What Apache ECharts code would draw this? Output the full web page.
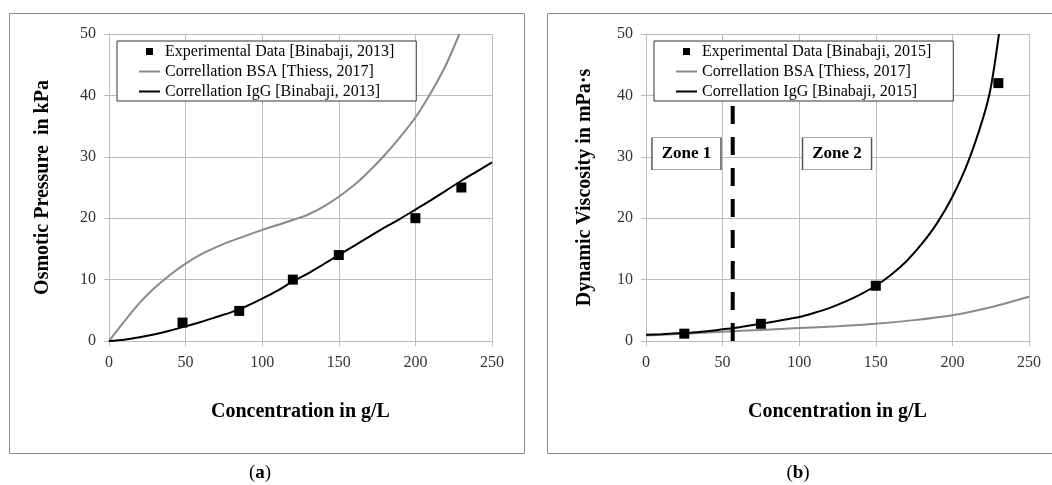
<!DOCTYPE html>
<html>
<head>
<meta charset="utf-8">
<script src="https://cdn.jsdelivr.net/npm/echarts@6/dist/echarts.min.js"></script>
<style>
  html, body { margin: 0; padding: 0; background: #fff; }
  #chart { width: 1052px; height: 485px; }
</style>
</head>
<body>
<div id="chart"></div>
<script>
// (a) osmotic pressure, kPa vs g/L
const expA = [[48, 3], [85, 4.9], [120, 10], [150, 14], [200, 20], [230, 25]];
const bsaA = [[0, 0], [10, 3.2], [20, 6.2], [30, 8.7], [40, 10.8], [50, 12.6], [60, 14.1], [70, 15.3],
  [80, 16.3], [90, 17.2], [100, 18.1], [110, 18.9], [120, 19.7], [130, 20.6], [140, 21.9], [150, 23.5],
  [160, 25.4], [170, 27.7], [180, 30.3], [190, 33.2], [200, 36.4], [210, 40.4], [220, 45.0], [228.7, 50]];
const iggA = [[0, 0], [10, 0.2], [20, 0.6], [30, 1.1], [40, 1.7], [50, 2.4], [60, 3.1], [70, 3.9],
  [80, 4.7], [90, 5.7], [100, 6.9], [110, 8.2], [120, 9.7], [130, 11.0], [140, 12.5], [150, 14.0],
  [160, 15.5], [170, 17.0], [180, 18.5], [190, 19.9], [200, 21.4], [210, 22.9], [220, 24.5],
  [230, 26.1], [240, 27.6], [250, 29.1]];

// (b) dynamic viscosity, mPa·s vs g/L
const expB = [[25, 1.2], [75, 2.8], [150, 9], [230, 42]];
const bsaB = [[0, 0.9], [25, 1.2], [50, 1.5], [75, 1.8], [100, 2.1], [125, 2.4], [150, 2.8],
  [175, 3.4], [200, 4.2], [225, 5.5], [250, 7.2]];
const iggB = [[0, 1.0], [10, 1.1], [20, 1.25], [30, 1.4], [40, 1.6], [50, 1.9], [60, 2.2], [70, 2.6],
  [80, 3.0], [90, 3.45], [100, 3.9], [110, 4.6], [120, 5.4], [130, 6.4], [140, 7.6], [150, 9.0],
  [160, 10.8], [170, 13.0], [180, 15.8], [190, 19.2], [200, 23.5], [210, 29.0], [220, 36.3],
  [225, 41.2], [230.4, 50]];
const zoneLine = [[56.6, 0], [56.6, 40]];
const zones = [{ name: 'Zone 1', coord: [26.4, 30.5] }, { name: 'Zone 2', coord: [124.7, 30.5] }];

const nameExpA = 'Experimental Data [Binabaji, 2013]';
const nameExpB = 'Experimental Data [Binabaji, 2015]';
const nameBsa = 'Correllation BSA [Thiess, 2017]';
const nameIggA = 'Correllation IgG [Binabaji, 2013]';
const nameIggB = 'Correllation IgG [Binabaji, 2015]';

const FONT = 'Liberation Serif';
const GRID_C = '#bdbdbd';
const GREY = '#8a8a8a';
// icons padded to a 21x13 box so the square keeps its size
const squareIcon = 'path://M0,0M7,3h7v7h-7zM21,13';
const lineIcon = 'path://M0,0M0,5.5h21v2h-21zM21,13';

function xAxis(idx) {
  return {
    type: 'value', gridIndex: idx, min: 0, max: 250, interval: 50,
    name: 'Concentration in g/L', nameLocation: 'middle', nameGap: 61,
    nameTextStyle: { fontFamily: FONT, fontSize: 20, fontWeight: 'bold', color: '#000' },
    axisLine: { lineStyle: { color: GRID_C } },
    axisTick: { show: true, length: 5, lineStyle: { color: GRID_C } },
    axisLabel: { margin: 14, fontFamily: FONT, fontSize: 16, color: '#333' },
    splitLine: { show: true, lineStyle: { color: GRID_C } }
  };
}
function yAxis(idx, name, gap) {
  return {
    type: 'value', gridIndex: idx, min: 0, max: 50, interval: 10,
    name: name, nameLocation: 'middle', nameGap: gap,
    nameTextStyle: { fontFamily: FONT, fontSize: 20, fontWeight: 'bold', color: '#000' },
    axisLine: { show: true, lineStyle: { color: GRID_C } },
    axisTick: { show: true, length: 5, lineStyle: { color: GRID_C } },
    axisLabel: { margin: 13, fontFamily: FONT, fontSize: 16, color: '#333' },
    splitLine: { show: true, lineStyle: { color: GRID_C } }
  };
}
function legend(left, names) {
  return {
    orient: 'vertical', left: left, top: 41, selectedMode: false,
    padding: [2, 22, 1, 22], itemGap: 3, itemWidth: 21, itemHeight: 13,
    borderColor: '#333', borderWidth: 1, backgroundColor: '#fff',
    textStyle: { fontFamily: FONT, fontSize: 16, color: '#000', lineHeight: 17 },
    data: [{ name: names[0], icon: squareIcon }, { name: names[1], icon: lineIcon }, { name: names[2], icon: lineIcon }]
  };
}
function curve(name, data, color, x) {
  return {
    type: 'line', name: name, data: data, xAxisIndex: x, yAxisIndex: x,
    symbol: 'none', smooth: 0.3,
    lineStyle: { color: color, width: 2 }, itemStyle: { color: color }, z: 2
  };
}
function points(name, data, x) {
  return {
    type: 'scatter', name: name, data: data, xAxisIndex: x, yAxisIndex: x,
    symbol: 'rect', symbolSize: 10, itemStyle: { color: '#000', opacity: 1 }, z: 3
  };
}

const chart = echarts.init(document.getElementById('chart'));
chart.setOption({
  animation: false,
  backgroundColor: '#fff',
  grid: [
    { left: 109, top: 34, width: 383, height: 307 },
    { left: 646, top: 34, width: 383, height: 307 }
  ],
  xAxis: [xAxis(0), xAxis(1)],
  yAxis: [yAxis(0, 'Osmotic Pressure  in kPa', 56), yAxis(1, 'Dynamic Viscosity in mPa·s', 51)],
  legend: [legend(117, [nameExpA, nameBsa, nameIggA]), legend(654, [nameExpB, nameBsa, nameIggB])],
  series: [
    points(nameExpA, expA, 0),
    curve(nameBsa, bsaA, GREY, 0),
    curve(nameIggA, iggA, '#000', 0),
    points(nameExpB, expB, 1),
    curve(nameBsa, bsaB, GREY, 1),
    curve(nameIggB, iggB, '#000', 1),
    {
      type: 'line', name: 'zone boundary', data: zoneLine, xAxisIndex: 1, yAxisIndex: 1,
      symbol: 'none', z: 2,
      lineStyle: { color: '#000', width: 4, type: [18, 13] },
      markPoint: {
        symbol: 'rect', symbolSize: [69, 32],
        itemStyle: { color: '#fff', borderColor: '#555', borderWidth: 1 },
        label: { show: true, position: 'inside', formatter: '{b}', fontFamily: FONT, fontSize: 17, fontWeight: 'bold', color: '#000' },
        data: zones
      }
    }
  ],
  graphic: [
    { type: 'rect', shape: { x: 9.5, y: 13.5, width: 515, height: 440 }, style: { fill: 'none', stroke: '#8c8c8c', lineWidth: 1 } },
    { type: 'rect', shape: { x: 547.5, y: 13.5, width: 520, height: 440 }, style: { fill: 'none', stroke: '#8c8c8c', lineWidth: 1 } },
    {
      type: 'text', x: 260, y: 473,
      style: {
        text: '{p|(}{b|a}{p|)}', align: 'center', verticalAlign: 'middle',
        rich: { p: { fontFamily: FONT, fontSize: 19, color: '#000' }, b: { fontFamily: FONT, fontSize: 19, fontWeight: 'bold', color: '#000' } }
      }
    },
    {
      type: 'text', x: 798, y: 473,
      style: {
        text: '{p|(}{b|b}{p|)}', align: 'center', verticalAlign: 'middle',
        rich: { p: { fontFamily: FONT, fontSize: 19, color: '#000' }, b: { fontFamily: FONT, fontSize: 19, fontWeight: 'bold', color: '#000' } }
      }
    }
  ]
});
</script>
</body>
</html>
